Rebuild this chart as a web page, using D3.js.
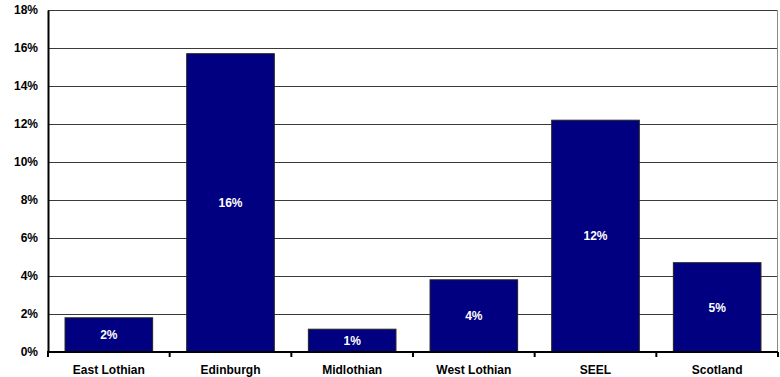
<!DOCTYPE html>
<html>
<head>
<meta charset="utf-8">
<script src="https://cdn.jsdelivr.net/npm/d3@7"></script>
<style>
  html, body { margin: 0; padding: 0; background: #fff; }
  svg { display: block; }
  text { font-family: "Liberation Sans", Arial, sans-serif; font-weight: bold; }
</style>
</head>
<body>
<svg id="chart" width="780" height="377"></svg>
<script>
// Share of population by area (%)
const categories = ["East Lothian", "Edinburgh", "Midlothian", "West Lothian", "SEEL", "Scotland"];
const values = [1.8, 15.7, 1.2, 3.8, 12.2, 4.7];
const yTicks = [0, 2, 4, 6, 8, 10, 12, 14, 16, 18];

const svg = d3.select("#chart");
const margin = { left: 48, right: 2, top: 10, bottom: 25 };
const W = 780, H = 377;
const fontSize = "12px";

const x = d3.scaleBand()
  .domain(categories)
  .range([margin.left, W - margin.right])
  .paddingInner(0.28)
  .paddingOuter(0.14);

const y = d3.scaleLinear()
  .domain([0, 18])
  .range([H - margin.bottom, margin.top]);

const pct = v => v + "%";

// horizontal gridlines
svg.append("g")
  .selectAll("line")
  .data(yTicks.filter(t => t > 0))
  .join("line")
  .attr("x1", margin.left).attr("x2", W - margin.right)
  .attr("y1", d => y(d) + 0.5).attr("y2", d => y(d) + 0.5)
  .attr("stroke", "#3a3a3a").attr("stroke-width", 1);

// right border of plot area
svg.append("line")
  .attr("x1", W - margin.right - 0.5).attr("x2", W - margin.right - 0.5)
  .attr("y1", margin.top).attr("y2", y(0))
  .attr("stroke", "#888").attr("stroke-width", 1);

// bars
svg.append("g")
  .selectAll("rect")
  .data(values)
  .join("rect")
  .attr("x", (d, i) => x(categories[i]))
  .attr("y", d => y(d))
  .attr("width", x.bandwidth())
  .attr("height", d => y(0) - y(d))
  .attr("fill", "#000080")
  .attr("stroke", "#222")
  .attr("stroke-width", 1);

// value labels inside bars
const fmt = d3.format(".0%");
svg.append("g")
  .selectAll("text")
  .data(values)
  .join("text")
  .attr("x", (d, i) => x(categories[i]) + x.bandwidth() / 2)
  .attr("y", d => (y(d) + y(0)) / 2)
  .attr("dy", "0.35em")
  .attr("text-anchor", "middle")
  .attr("fill", "#fff")
  .style("font-size", fontSize)
  .text(d => fmt(d / 100));

// y axis
const yAxis = d3.axisLeft(y).tickValues(yTicks).tickFormat(pct).tickSize(0).tickPadding(10);
const gy = svg.append("g")
  .attr("transform", `translate(${margin.left},0)`)
  .call(yAxis);
gy.select(".domain").attr("stroke", "#000").attr("stroke-width", 2);
gy.selectAll("text").style("font-size", fontSize).attr("fill", "#000")
  .style("font-family", '"Liberation Sans", Arial, sans-serif').style("font-weight", "bold");

// x axis with ticks at category boundaries
const gx = svg.append("g")
  .attr("transform", `translate(0,${y(0)})`);
gx.append("line")
  .attr("x1", margin.left - 1).attr("x2", W - margin.right)
  .attr("y1", 0).attr("y2", 0)
  .attr("stroke", "#000").attr("stroke-width", 2);
const step = x.step();
const bounds = d3.range(categories.length + 1).map(i => x(categories[0]) - x.paddingOuter() * step + i * step);
gx.selectAll("line.tick")
  .data(bounds)
  .join("line")
  .attr("class", "tick")
  .attr("x1", d => d).attr("x2", d => d)
  .attr("y1", 0).attr("y2", 5)
  .attr("stroke", "#000").attr("stroke-width", 2);
gx.selectAll("text")
  .data(categories)
  .join("text")
  .attr("x", d => x(d) + x.bandwidth() / 2)
  .attr("y", 18)
  .attr("dy", "0.35em")
  .attr("text-anchor", "middle")
  .style("font-size", fontSize)
  .attr("fill", "#000")
  .text(d => d);
</script>
</body>
</html>
